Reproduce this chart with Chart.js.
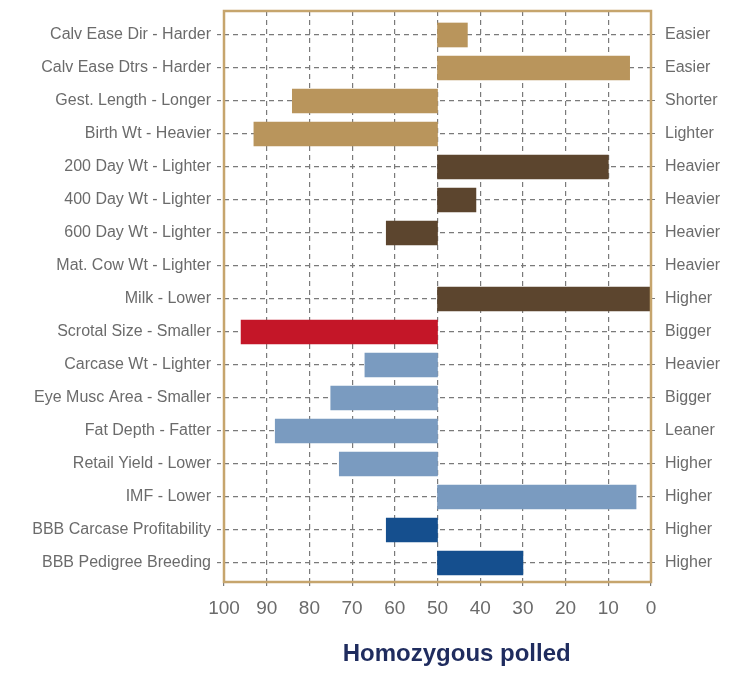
<!DOCTYPE html>
<html><head><meta charset="utf-8">
<script src="https://cdn.jsdelivr.net/npm/chart.js@4"></script>
<style>html,body{margin:0;padding:0;background:#fff}#wrap{width:732px;height:677px}</style>
</head><body><div id="wrap"><canvas id="c" width="732" height="677"></canvas></div>
<script>
const categories = ["Calv Ease Dir - Harder","Calv Ease Dtrs - Harder","Gest. Length - Longer","Birth Wt - Heavier","200 Day Wt - Lighter","400 Day Wt - Lighter","600 Day Wt - Lighter","Mat. Cow Wt - Lighter","Milk - Lower","Scrotal Size - Smaller","Carcase Wt - Lighter","Eye Musc Area - Smaller","Fat Depth - Fatter","Retail Yield - Lower","IMF - Lower","BBB Carcase Profitability","BBB Pedigree Breeding"];
const rightLabels = ["Easier","Easier","Shorter","Lighter","Heavier","Heavier","Heavier","Heavier","Higher","Bigger","Heavier","Bigger","Leaner","Higher","Higher","Higher","Higher"];
const values = [43, 5, 84, 93, 10, 41, 62, null, 0, 96, 67, 75, 88, 73, 3.5, 62, 30];
const baseline = 50;
const groups = ["calving","calving","calving","calving","growth","growth","growth","growth","growth","fertility","carcase","carcase","carcase","carcase","carcase","index","index"];
const xTicks = [100,90,80,70,60,50,40,30,20,10,0];
const axisTitle = "Homozygous polled";

const groupColors = {calving:"#B9955C", growth:"#5C452E", fertility:"#C41628", carcase:"#7A9BC0", index:"#154F8E"};
const FONT = "'Liberation Sans Narrow','Arial Narrow','Liberation Sans',sans-serif";

const boxPlugin = {
  id:'box',
  afterDatasetsDraw(chart){
    const a = chart.chartArea, ctx = chart.ctx;
    ctx.save();
    ctx.strokeStyle = '#C6A56D';
    ctx.lineWidth = 2.5;
    ctx.strokeRect(a.left, a.top, a.right - a.left, a.bottom - a.top);
    ctx.restore();
  },
  afterDraw(chart){
    const ctx = chart.ctx, a = chart.chartArea;
    ctx.save();
    ctx.fillStyle = '#1F2C5E';
    ctx.font = "bold 24px " + FONT;
    ctx.textAlign = 'center';
    ctx.textBaseline = 'middle';
    ctx.fillText(axisTitle, a.left + (a.right - a.left) * 0.545, 654);
    ctx.restore();
  }
};

const idx = categories.map((_, i) => i);
const gridCommon = {color:'#7a7a7a', lineWidth:1.2, tickColor:'#7a7a7a', tickLength:7, tickBorderDash:[4,3]};
const noPad = s => { s.paddingTop = 0; s.paddingBottom = 0; };

new Chart(document.getElementById('c'), {
  type:'bar',
  data:{
    datasets:[{
      data: categories.map((c, i) => ({y:i, x: values[i] === null ? null : [baseline, values[i]]})),
      backgroundColor: groups.map(g => groupColors[g]),
      barThickness: 24,
      borderWidth: 0,
      yAxisID: 'y'
    }]
  },
  plugins:[boxPlugin],
  options:{
    indexAxis:'y',
    responsive:false,
    animation:false,
    layout:{padding:{top:11, bottom:57, left:0, right:0}},
    plugins:{legend:{display:false}, tooltip:{enabled:false}},
    scales:{
      x:{
        type:'linear', min:0, max:100, reverse:true, offset:false,
        afterBuildTicks(s){ s.ticks = xTicks.map(v => ({value:v})); },
        afterFit(s){ s.height = 38; s.paddingLeft = 0; s.paddingRight = 0; },
        grid:{...gridCommon, offset:false},
        border:{display:false, dash:[5,4]},
        ticks:{color:'#6b6b6b', font:{family:FONT, size:19}, padding:8, maxRotation:0}
      },
      y:{
        type:'linear', position:'left', reverse:true, min:-0.727, max:16.576, offset:false,
        afterBuildTicks(s){ s.ticks = idx.map(v => ({value:v})); },
        afterFit(s){ s.width = 224; noPad(s); },
        grid:{...gridCommon, offset:false},
        border:{display:false, dash:[5,4]},
        ticks:{color:'#6b6b6b', font:{family:FONT, size:16}, padding:6, callback:v => categories[v]}
      },
      y2:{
        type:'linear', position:'right', reverse:true, min:-0.727, max:16.576, offset:false,
        afterBuildTicks(s){ s.ticks = idx.map(v => ({value:v})); },
        afterFit(s){ s.width = 81; noPad(s); },
        grid:{drawOnChartArea:false, offset:false, color:'#7a7a7a', tickLength:7, tickBorderDash:[4,3]},
        border:{display:false},
        ticks:{color:'#6b6b6b', font:{family:FONT, size:16}, padding:7, callback:v => rightLabels[v]}
      }
    }
  }
});
</script></body></html>
